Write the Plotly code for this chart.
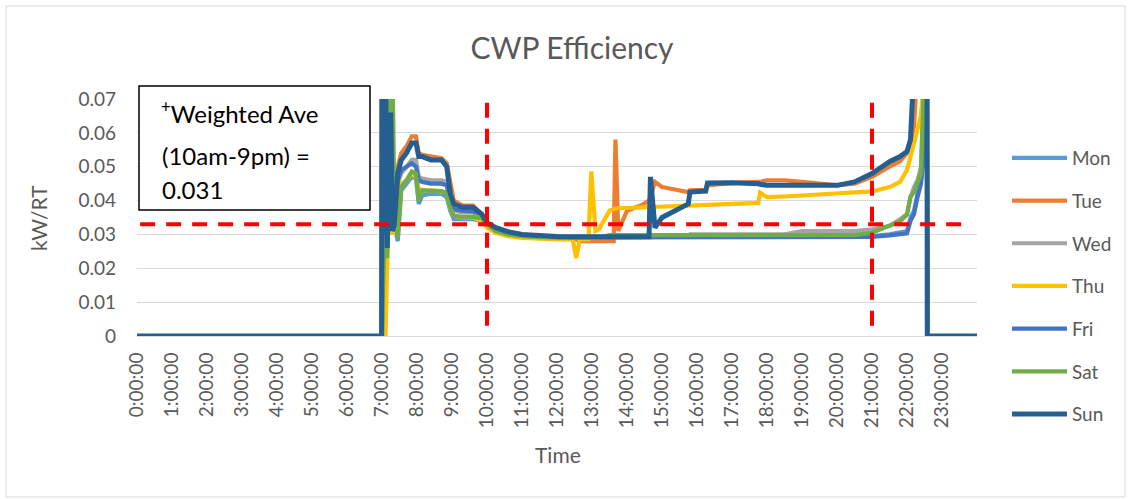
import plotly.graph_objects as go

# ---------------- data ----------------
# time of day in hours (common sampling grid for all days)
time_h = [0.0, 6.99, 7.0, 7.05, 7.1, 7.15, 7.2, 7.25, 7.3, 7.35,
          7.45, 7.55, 7.7, 7.85, 7.97, 8.05, 8.15, 8.4, 8.7, 8.85,
          8.95, 9.05, 9.3, 9.6, 9.85, 10.0, 10.25, 10.6, 11.0, 11.5,
          12.0, 12.45, 12.55, 12.65, 12.9, 12.98, 13.1, 13.2, 13.5, 13.62,
          13.67, 13.75, 14.0, 14.45, 14.63, 14.67, 14.8, 15.0, 15.4, 15.75,
          15.8, 16.25, 16.3, 17.0, 17.75, 17.8, 18.0, 18.5, 19.0, 19.5,
          20.0, 20.5, 21.0, 21.5, 21.8, 22.0, 22.1, 22.2, 22.3, 22.4,
          22.5, 22.57, 22.58, 24.0]

mon = [0, 0, 0.08, 0.030, 0.060, 0.025, 0.040, 0.070, 0.030, 0.033,
       0.028, 0.043, 0.045, 0.047, 0.0465, 0.039, 0.0415, 0.042, 0.042, 0.041,
       0.037, 0.0345, 0.0345, 0.0345, 0.034, 0.0325, 0.031, 0.030, 0.0295, 0.0292,
       0.0293, 0.0293, 0.0293, 0.0293, 0.0293, 0.0293, 0.0293, 0.0293, 0.0293, 0.0293,
       0.0293, 0.0293, 0.0293, 0.0293, 0.0293, 0.0293, 0.0293, 0.0293, 0.0293, 0.0293,
       0.0293, 0.0293, 0.0293, 0.0293, 0.0293, 0.0293, 0.0293, 0.0293, 0.0293, 0.0293,
       0.0293, 0.0293, 0.0295, 0.030, 0.0305, 0.031, 0.035, 0.037, 0.042, 0.046,
       0.060, 0.08, 0, 0]

tue = [0, 0, 0.08, 0.060, 0.08, 0.030, 0.050, 0.060, 0.035, 0.038,
       0.050, 0.054, 0.056, 0.059, 0.059, 0.054, 0.0535, 0.053, 0.0525, 0.051,
       0.046, 0.040, 0.0385, 0.0385, 0.036, 0.033, 0.032, 0.0305, 0.030, 0.0295,
       0.029, 0.029, 0.0285, 0.028, 0.028, 0.028, 0.028, 0.028, 0.028, 0.028,
       0.058, 0.031, 0.037, 0.0388, 0.040, 0.041, 0.0455, 0.044, 0.0432, 0.0425,
       0.043, 0.0432, 0.0445, 0.0452, 0.0455, 0.0455, 0.046, 0.046, 0.0455, 0.045,
       0.0445, 0.045, 0.047, 0.050, 0.0516, 0.054, 0.057, 0.062, 0.08, 0.08,
       0.08, 0.08, 0, 0]

wed = [0, 0, 0.08, 0.050, 0.08, 0.028, 0.045, 0.050, 0.032, 0.035,
       0.045, 0.048, 0.050, 0.052, 0.052, 0.047, 0.0465, 0.046, 0.046, 0.0455,
       0.040, 0.037, 0.0365, 0.0365, 0.035, 0.0325, 0.031, 0.030, 0.0295, 0.029,
       0.029, 0.029, 0.029, 0.029, 0.029, 0.029, 0.029, 0.029, 0.0292, 0.0292,
       0.0292, 0.0292, 0.0292, 0.0292, 0.0295, 0.0295, 0.0295, 0.0295, 0.0295, 0.0295,
       0.030, 0.030, 0.030, 0.030, 0.030, 0.030, 0.030, 0.030, 0.031, 0.031,
       0.031, 0.031, 0.0315, 0.0325, 0.0345, 0.036, 0.041, 0.044, 0.046, 0.050,
       0.08, 0.08, 0, 0]

thu = [0, 0, 0, 0, 0, 0.022, 0.08, 0.040, 0.030, 0.032,
       0.042, 0.045, 0.046, 0.048, 0.047, 0.0435, 0.043, 0.043, 0.0428, 0.0425,
       0.038, 0.0355, 0.035, 0.035, 0.034, 0.032, 0.0305, 0.0295, 0.029, 0.0287,
       0.0285, 0.0285, 0.023, 0.0285, 0.0285, 0.0486, 0.031, 0.0315, 0.037, 0.0375,
       0.0377, 0.0378, 0.0378, 0.038, 0.038, 0.038, 0.038, 0.0382, 0.0383, 0.0385,
       0.0385, 0.0387, 0.0387, 0.039, 0.0393, 0.0423, 0.041, 0.0412, 0.0415, 0.0418,
       0.042, 0.0422, 0.0427, 0.044, 0.0455, 0.049, 0.053, 0.057, 0.060, 0.065,
       0.08, 0.08, 0, 0]

fri = [0, 0, 0.08, 0.040, 0.08, 0.027, 0.050, 0.055, 0.032, 0.034,
       0.046, 0.049, 0.050, 0.051, 0.050, 0.046, 0.0455, 0.045, 0.045, 0.0445,
       0.0395, 0.0375, 0.037, 0.0368, 0.036, 0.033, 0.0315, 0.0302, 0.0296, 0.0293,
       0.0291, 0.0291, 0.0291, 0.0291, 0.0291, 0.0291, 0.0291, 0.0291, 0.0291, 0.0291,
       0.0291, 0.0291, 0.0291, 0.0291, 0.0292, 0.0292, 0.0292, 0.0292, 0.0292, 0.0292,
       0.0292, 0.0292, 0.0292, 0.0292, 0.0292, 0.0292, 0.0292, 0.0292, 0.0292, 0.0292,
       0.0292, 0.0292, 0.0293, 0.0297, 0.030, 0.0303, 0.034, 0.036, 0.041, 0.045,
       0.055, 0.08, 0, 0]

sat = [0, 0, 0, 0.022, 0.030, 0.023, 0.045, 0.08, 0.08, 0.040,
       0.029, 0.044, 0.046, 0.0486, 0.048, 0.040, 0.043, 0.043, 0.0428, 0.042,
       0.038, 0.0355, 0.0352, 0.0352, 0.0348, 0.033, 0.031, 0.030, 0.0295, 0.0292,
       0.029, 0.029, 0.029, 0.029, 0.029, 0.029, 0.029, 0.029, 0.0298, 0.0298,
       0.0298, 0.0298, 0.0298, 0.0298, 0.0298, 0.0298, 0.0298, 0.0298, 0.0298, 0.0298,
       0.0298, 0.0298, 0.0298, 0.0298, 0.0298, 0.0298, 0.0298, 0.0298, 0.0298, 0.0298,
       0.0298, 0.0298, 0.0305, 0.0325, 0.0338, 0.0358, 0.0412, 0.0425, 0.045, 0.048,
       0.08, 0.08, 0, 0]

sun = [0, 0, 0.08, 0.030, 0.08, 0.026, 0.060, 0.066, 0.031, 0.033,
       0.048, 0.052, 0.054, 0.057, 0.057, 0.053, 0.053, 0.052, 0.052, 0.050,
       0.042, 0.039, 0.038, 0.038, 0.036, 0.0335, 0.032, 0.0308, 0.030, 0.0296,
       0.0294, 0.0293, 0.0293, 0.0293, 0.0293, 0.0293, 0.0293, 0.0293, 0.0292, 0.0292,
       0.0292, 0.0292, 0.0292, 0.0292, 0.0293, 0.047, 0.032, 0.035, 0.037, 0.039,
       0.0425, 0.0428, 0.0452, 0.0453, 0.045, 0.0448, 0.0445, 0.0445, 0.0443, 0.0443,
       0.0445, 0.0455, 0.048, 0.0515, 0.053, 0.0545, 0.058, 0.08, 0.08, 0.08,
       0.08, 0.08, 0, 0]

day_names = ["Mon", "Tue", "Wed", "Thu", "Fri", "Sat", "Sun"]
day_values = [mon, tue, wed, thu, fri, sat, sun]
day_colors = ["#5B9BD5", "#ED7D31", "#A5A5A5", "#FFC000", "#4472C4", "#70AD47", "#255E91"]

tick_hours = list(range(24))
tick_labels = [f"{h}:00:00" for h in tick_hours]
y_ticks = [0, 0.01, 0.02, 0.03, 0.04, 0.05, 0.06, 0.07]
y_tick_labels = ["0", "0.01", "0.02", "0.03", "0.04", "0.05", "0.06", "0.07"]

weighted_ave_line = 0.033
window_start_h = 10
window_end_h = 21

# ---------------- figure ----------------
FONT = "Lato"
GREY = "#595959"

fig = go.Figure()
for name, vals, col in zip(day_names, day_values, day_colors):
    fig.add_trace(go.Scatter(
        x=time_h, y=vals, mode="lines", name=name,
        legendgroup=name,
        line=dict(color=col, width=5 if name == "Sun" else 4.2),
    ))

# plot area in pixels: x 137..977, y 99..336
L, R, T, B = 137, 977, 99, 336
W, H = R - L, B - T

def px(xpix):
    return (xpix - L) / W

def py(ypix):
    return (B - ypix) / H

RED_DASH = dict(color="#FF0000", width=4, dash="15px,11px")
shapes = [
    # red dashed weighted average line
    dict(type="line", xref="x", yref="y", x0=0.09, x1=23.8,
         y0=weighted_ave_line, y1=weighted_ave_line, line=RED_DASH, layer="above"),
    dict(type="line", xref="x", yref="y", x0=window_start_h, x1=window_start_h,
         y0=0.003, y1=0.0695, line=RED_DASH, layer="above"),
    dict(type="line", xref="x", yref="y", x0=window_end_h, x1=window_end_h,
         y0=0.003, y1=0.0695, line=RED_DASH, layer="above"),
    # text box
    dict(type="rect", xref="paper", yref="paper",
         x0=px(139), x1=px(370), y0=py(210), y1=py(86),
         fillcolor="white", line=dict(color="black", width=1.5), layer="above"),
    # outer chart border
    dict(type="rect", xref="paper", yref="paper",
         x0=px(6), x1=px(1125), y0=py(497), y1=py(6),
         fillcolor="rgba(0,0,0,0)", line=dict(color="#D9D9D9", width=1), layer="below"),
]

annotations = [
    dict(text="<sup>+</sup>Weighted Ave", xref="paper", yref="paper",
         x=px(159), y=py(112), xanchor="left", yanchor="middle", showarrow=False,
         font=dict(family=FONT, size=24, color="black")),
    dict(text="(10am-9pm) =", xref="paper", yref="paper",
         x=px(160), y=py(155), xanchor="left", yanchor="middle", showarrow=False,
         font=dict(family=FONT, size=24, color="black")),
    dict(text="0.031", xref="paper", yref="paper",
         x=px(160), y=py(189), xanchor="left", yanchor="middle", showarrow=False,
         font=dict(family=FONT, size=24, color="black")),
    dict(text="kW/RT", xref="paper", yref="paper", textangle=-90,
         x=px(38), y=py(218), xanchor="center", yanchor="middle", showarrow=False,
         font=dict(family=FONT, size=21, color=GREY)),
    dict(text="Time", xref="paper", yref="paper",
         x=px(558), y=py(455), xanchor="center", yanchor="middle", showarrow=False,
         font=dict(family=FONT, size=21, color=GREY)),
]

fig.update_layout(
    width=1132, height=499,
    margin=dict(l=L, r=1132 - R, t=T, b=499 - B, autoexpand=False),
    paper_bgcolor="white", plot_bgcolor="white",
    title=dict(text="CWP Efficiency", x=572 / 1132, xref="container", xanchor="center",
               y=1 - 48 / 499, yref="container", yanchor="middle",
               font=dict(family=FONT, size=30, color=GREY)),
    showlegend=True,
    legend=dict(x=1007 / 1132, y=1 - 139 / 499, xref="container", yref="container",
                xanchor="left", yanchor="top", maxheight=480, itemwidth=55,
                font=dict(family=FONT, size=19, color=GREY),
                tracegroupgap=15, bgcolor="rgba(0,0,0,0)"),
    shapes=shapes,
    annotations=annotations,
    font=dict(family=FONT, color=GREY),
)

fig.update_xaxes(
    range=[0, 24], tickmode="array", tickvals=tick_hours, ticktext=tick_labels,
    tickangle=-90, tickfont=dict(family=FONT, size=19, color=GREY),
    showgrid=False, zeroline=False, showline=True, linecolor="#D9D9D9", linewidth=1,
    ticks="", ticklabelstandoff=8,
)
fig.update_yaxes(
    range=[0, 0.07], tickmode="array", tickvals=y_ticks, ticktext=y_tick_labels,
    tickfont=dict(family=FONT, size=19, color=GREY),
    showgrid=True, gridcolor="#D9D9D9", gridwidth=1, zeroline=False,
    showline=False, ticks="", ticklabelstandoff=20,
)

fig.write_html("out.html", config={"displayModeBar": False},
               post_script="document.body.style.margin='0';")
